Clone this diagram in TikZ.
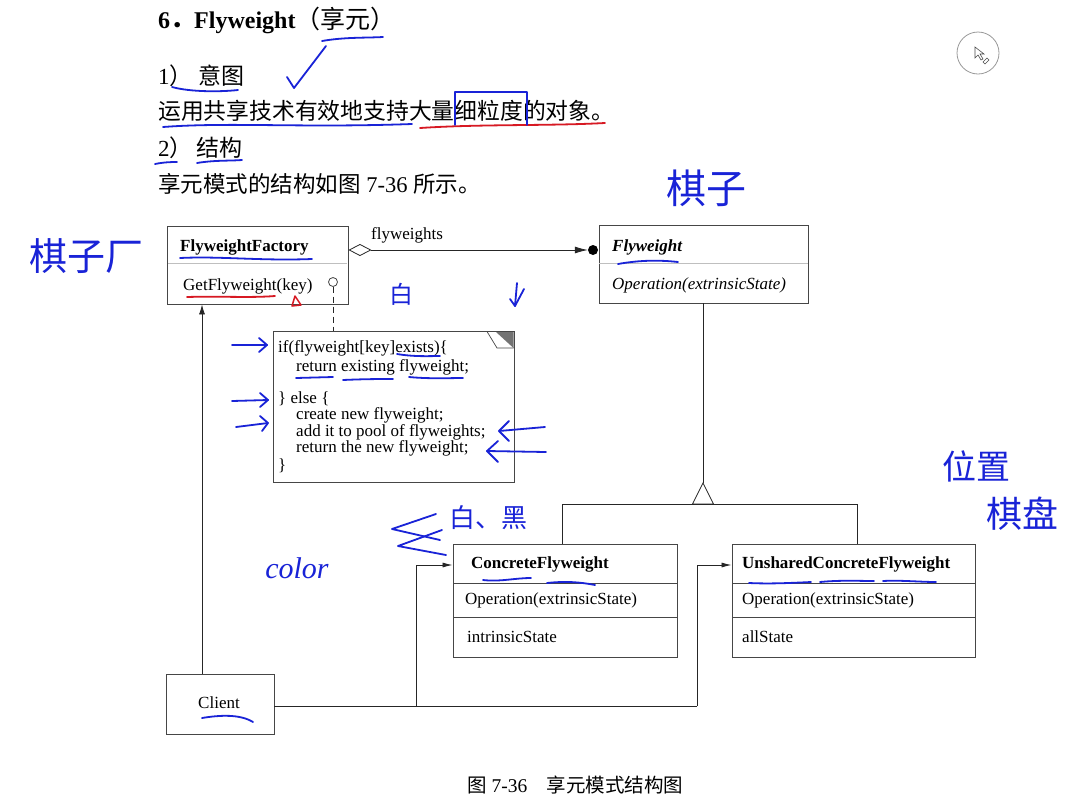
\documentclass[tikz,border=0pt]{standalone}
\usepackage{fontspec}
\setmainfont{Liberation Serif}
\newfontfamily\cjk{Noto Sans CJK SC}
\usetikzlibrary{arrows.meta,calc}
\definecolor{inkblue}{RGB}{25,35,215}
\definecolor{inkred}{RGB}{215,25,35}
\definecolor{boxline}{RGB}{70,70,70}
\begin{document}
\begin{tikzpicture}[x=1pt,y=-1pt,
  umlbox/.style={draw=boxline,line width=0.9pt,inner sep=0pt},
  divider/.style={draw=boxline,line width=0.7pt},
  lightdiv/.style={draw=black!25,line width=0.8pt},
  txt/.style={inner sep=0pt,anchor=base west,font=\fontsize{17}{19}\selectfont},
  cjktxt/.style={inner sep=0pt,anchor=base west,font=\cjk\fontsize{22.8}{26}\selectfont},
  conn/.style={draw=black!85,line width=0.8pt},
  ink/.style={draw=inkblue,line width=1.8pt,line cap=round,line join=round},
  redink/.style={draw=inkred,line width=1.8pt,line cap=round,line join=round},
  hw/.style={inner sep=0pt,text=inkblue}
]
\useasboundingbox[fill=white] (0,0) rectangle (1082,807);

% ---------- header text ----------
\node[inner sep=0pt,anchor=base west,font=\fontsize{24}{26}\selectfont] (head) at (158,28)
  {\textbf{6}{\cjk\bfseries ．}\textbf{Flyweight}{\cjk\fontsize{25}{26}\selectfont （享元）}};
\node[inner sep=0pt,anchor=base west,font=\fontsize{23}{26}\selectfont] (t1) at (158,84) {1{\cjk ）}\hspace{6pt}{\cjk 意图}};
\node[cjktxt] (t2) at (158,119) {运用共享技术有效地支持大量细粒度的对象。};
\node[inner sep=0pt,anchor=base west,font=\fontsize{23}{26}\selectfont] (t3) at (158,156) {2{\cjk ）}\hspace{4pt}{\cjk 结构}};
\node[inner sep=0pt,anchor=base west,font=\fontsize{22.5}{26}\selectfont] (t4) at (158,192) {{\cjk 享元模式的结构如图} 7-36 {\cjk 所示。}};

% ---------- UML boxes ----------
\node[umlbox,minimum width=181pt,minimum height=78pt] (fac) at (257.5,265) {};
\draw[lightdiv] (168,263.5) -- (347,263.5);
\node[txt,font=\fontsize{17}{19}\selectfont\bfseries] (facT) at (180,251) {FlyweightFactory};
\node[txt] (facM) at (183,290) {GetFlyweight(key)};
\draw[boxline,line width=0.8pt] (333,282) circle (4.5);
\coordinate (lol) at (333,286.5);

\node[umlbox,minimum width=209pt,minimum height=78pt] (fw) at (703.5,264) {};
\draw[lightdiv] (599,263.5) -- (808,263.5);
\node[txt,font=\fontsize{17}{19}\selectfont\bfseries\itshape] (fwT) at (612,251) {Flyweight};
\node[txt,font=\fontsize{17}{19}\selectfont\itshape] (fwM) at (612,289) {Operation(extrinsicState)};

% note
\node[umlbox,minimum width=241pt,minimum height=151pt] (note) at (393.5,406.5) {};
\fill[black!55] (496,332) -- (513.5,332) -- (513.5,348) -- cycle;
\draw[boxline,line width=0.7pt] (487,331.5) -- (497,348) -- (513.5,348);
\node[txt] (n1) at (278,352) {if(flyweight[key]exists)\{};
\node[txt] (n2) at (296,371) {return existing flyweight;};
\node[txt] (n3) at (278,403) {\} else \{};
\node[txt] (n4) at (296,419) {create new flyweight;};
\node[txt] (n5) at (296,436) {add it to pool of flyweights;};
\node[txt] (n6) at (296,452) {return the new flyweight;};
\node[txt] (n7) at (278,470) {\}};
\draw[conn,dash pattern=on 6pt off 4pt] (lol) -- (lol |- note.north);

% concrete flyweight
\node[umlbox,minimum width=224pt,minimum height=113pt] (cf) at (565,600.5) {};
\draw[divider] (453,583) -- (677,583);
\draw[divider] (453,617) -- (677,617);
\node[txt,font=\fontsize{17}{19}\selectfont\bfseries] (cfT) at (471,568) {ConcreteFlyweight};
\node[txt] (cfM) at (465,604) {Operation(extrinsicState)};
\node[txt] (cfA) at (467,642) {intrinsicState};

% unshared
\node[umlbox,minimum width=243pt,minimum height=113pt] (un) at (853.5,600.5) {};
\draw[divider] (732,583) -- (975,583);
\draw[divider] (732,617) -- (975,617);
\node[txt,font=\fontsize{17}{19}\selectfont\bfseries] (unT) at (742,568) {UnsharedConcreteFlyweight};
\node[txt] (unM) at (742,604) {Operation(extrinsicState)};
\node[txt] (unA) at (742,642) {allState};

% client
\node[umlbox,minimum width=108pt,minimum height=60pt] (client) at (220,704) {};
\node[txt,anchor=base] (clT) at (219,708) {Client};

% ---------- connectors ----------
\coordinate (ay) at (0,250);
\node[circle,fill=black,inner sep=0pt,minimum size=10pt] (dot) at (593,250) {};
\draw[conn,{Diamond[open,length=23pt,width=12pt]}-{Latex[length=13pt,width=7pt]}] (fac.east |- ay) -- (dot.west);
\node[txt,anchor=base west] (flyL) at (371,239) {flyweights};

\coordinate (cx) at (202,0);
\draw[conn,-{Latex[length=10pt,width=6pt]}] (client.north -| cx) -- (fac.south -| cx);

\coordinate (j1) at (416,706);
\coordinate (j2) at (697,706);
\coordinate (k1) at (416,565);
\coordinate (k2) at (697,565);
\draw[conn] (client.east |- j1) -- (j2);
\draw[conn,-{Latex[length=10pt,width=5pt]}] (j1) -- (k1) -- (cf.west |- k1);
\draw[conn,-{Latex[length=10pt,width=5pt]}] (j2) -- (k2) -- (un.west |- k2);

% generalization
\coordinate (apex) at (703,483);
\draw[conn] (fw.south -| apex) -- (apex);
\draw[conn,line join=miter] (apex) -- (692.5,504) -- (713.5,504) -- cycle;
\draw[conn] (cf.north -| 562,0) -- (562,504) -- (857,504) -- (un.north -| 857,0);

% caption
\node[inner sep=0pt,anchor=base west,font=\fontsize{19.5}{22}\selectfont] (cap) at (467,792) {{\cjk 图} 7-36{\cjk 　享元模式结构图}};

% ---------- screen cursor circle ----------
\draw[black!40,line width=0.8pt] (978,53) circle (21);
\draw[black!70,line width=0.6pt] (975,47) -- (975,58) -- (978,55) -- (981,60) -- (983,59) -- (980,54) -- (984,54) -- cycle;
\draw[black!70,line width=0.5pt] (983,62) -- (987,58) -- (989,60) -- (985,64) -- cycle;

% ---------- handwritten annotations ----------
\draw[ink] (322,41) .. controls (345,37) and (365,38) .. (383,37);
\draw[ink] (287,77) -- (294,88) -- (326,46);
\draw[ink] (172,87) .. controls (190,92) and (220,92) .. (238,90);
\draw[ink] (163,127) .. controls (230,122) and (300,128) .. (412,124);
\draw[redink] (420,128) .. controls (480,124) and (550,126) .. (605,123);
\draw[ink,line width=1.4pt] (455,125) -- (455,92) -- (527,92) -- (527,125);
\draw[ink] (155,164) .. controls (165,162) and (172,162) .. (177,162);
\draw[ink] (197,163) .. controls (215,160) and (230,161) .. (242,160);

\node[hw,font=\cjk\fontsize{38}{40}\selectfont] (hwL) at (86,256) {棋子厂};
\node[hw,font=\cjk\fontsize{40}{42}\selectfont] (hwT) at (706,188) {棋子};
\node[hw,font=\cjk\fontsize{24}{26}\selectfont] (hwB) at (401,294) {白};
\node[hw,font=\cjk\fontsize{26}{28}\selectfont] (hwC) at (488,518) {白、黑};
\node[hw,font=\fontsize{30}{32}\selectfont\itshape] (hwD) at (297,568) {color};
\node[hw,font=\cjk\fontsize{34}{36}\selectfont] (hwE) at (976,466) {位置};
\node[hw,font=\cjk\fontsize{36}{38}\selectfont] (hwF) at (1022,514) {棋盘};

\draw[ink] (517,283) -- (515,306) -- (510,299);
\draw[ink] (515,306) -- (524,289);

\draw[ink] (180,258) .. controls (220,256) and (260,261) .. (312,259);
\draw[redink] (187,297) .. controls (220,296) and (250,298) .. (275,296);
\draw[redink,line width=1.5pt] (295,296) -- (292,306) -- (301,305) -- cycle;
\draw[ink] (618,264) .. controls (640,260) and (660,260) .. (678,262);

\draw[ink] (232,345) -- (267,345);
\draw[ink] (259,338) -- (267,345) -- (259,352);
\draw[ink] (232,401) -- (268,400);
\draw[ink] (260,393) -- (268,400) -- (260,407);
\draw[ink] (236,427) -- (268,423);
\draw[ink] (260,416) -- (268,423) -- (262,431);

\draw[ink] (397,354) .. controls (415,357) and (430,356) .. (440,356);
\draw[ink] (296,378) -- (333,377);
\draw[ink] (343,380) .. controls (365,379) and (380,379) .. (393,379);
\draw[ink] (409,377) .. controls (430,379) and (450,378) .. (463,378);
\draw[ink] (545,427) -- (499,431);
\draw[ink] (509,421) -- (499,431) -- (509,441);
\draw[ink] (546,452) -- (487,451);
\draw[ink] (498,441) -- (487,451) -- (498,462);

\draw[ink] (436,514) -- (392,529) -- (440,540);
\draw[ink] (442,530) -- (398,546) -- (446,555);

\draw[ink] (483,580) .. controls (500,582) and (515,578) .. (531,578);
\draw[ink] (547,583) .. controls (565,581) and (580,582) .. (595,585);
\draw[ink] (749,583) .. controls (770,584) and (790,583) .. (811,582);
\draw[ink] (820,582) .. controls (840,580) and (860,581) .. (874,581);
\draw[ink] (883,581) .. controls (900,580) and (920,582) .. (936,582);

\draw[ink] (202,718) .. controls (220,715) and (240,714) .. (253,722);
\end{tikzpicture}
\end{document}
